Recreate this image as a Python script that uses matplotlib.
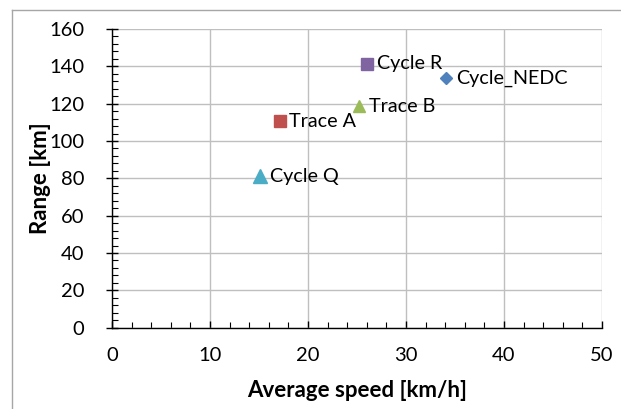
import matplotlib
matplotlib.use("Agg")
import matplotlib.pyplot as plt
from matplotlib.lines import Line2D
from matplotlib.ticker import MultipleLocator

# data
names = ["Cycle_NEDC", "Trace A", "Trace B", "Cycle R", "Cycle Q"]
avg_speed = [34.1, 17.1, 25.2, 26.0, 15.1]
range_km = [133.5, 110.5, 118.5, 141.5, 81.0]
colors = ["#4F81BD", "#C0504D", "#9BBB59", "#8064A2", "#4BACC6"]
markers = ["D", "s", "^", "s", "^"]
msizes = [6, 8, 8, 8, 10]

plt.rcParams['font.family'] = ['Lato', 'DejaVu Sans']

fig = plt.figure(figsize=(6.21, 4.09), dpi=100)
ax = fig.add_axes([112/621, 1 - 327.7/409, 490/621, 298.7/409])

for x, y, n, c, m, s in zip(avg_speed, range_km, names, colors, markers, msizes):
    ax.plot(x, y, marker=m, color=c, markersize=s, linestyle='none', zorder=3)
    ax.annotate(n, (x, y), xytext=(7, 0), textcoords='offset points',
                va='center', ha='left', fontsize=14.2, color='black')

ax.set_xlim(0, 50)
ax.set_ylim(0, 160)
ax.xaxis.set_major_locator(MultipleLocator(10))
ax.xaxis.set_minor_locator(MultipleLocator(2))
ax.yaxis.set_major_locator(MultipleLocator(20))
ax.yaxis.set_minor_locator(MultipleLocator(4))

ax.grid(True, which='major', color='#BFBFBF', linewidth=1)
ax.set_axisbelow(True)
for side in ['top', 'right']:
    ax.spines[side].set_visible(False)
for side in ['left', 'bottom']:
    ax.spines[side].set_color('black')
    ax.spines[side].set_linewidth(1)

ax.tick_params(axis='x', which='major', direction='in', length=5, width=1, pad=14, labelsize=14.5)
ax.tick_params(axis='x', which='minor', direction='in', length=4, width=0.8)
ax.tick_params(axis='y', which='major', direction='inout', length=8, width=1, pad=16, labelsize=14.5)
ax.tick_params(axis='y', which='minor', direction='in', length=4, width=0.8)

ax.set_xlabel('Average speed [km/h]', fontsize=16, fontweight='bold')
ax.set_ylabel('Range [km]', fontsize=16, fontweight='bold')
ax.xaxis.set_label_coords(0.5, -0.175)
ax.yaxis.set_label_coords(-0.124, 0.5)

# chart-area border (partly visible in the crop)
fig.add_artist(Line2D([12/621, 1], [1 - 10/409, 1 - 10/409], color='#A6A6A6', linewidth=1))
fig.add_artist(Line2D([12/621, 12/621], [0, 1 - 10/409], color='#A6A6A6', linewidth=1))

fig.savefig('out.png', dpi=100)
